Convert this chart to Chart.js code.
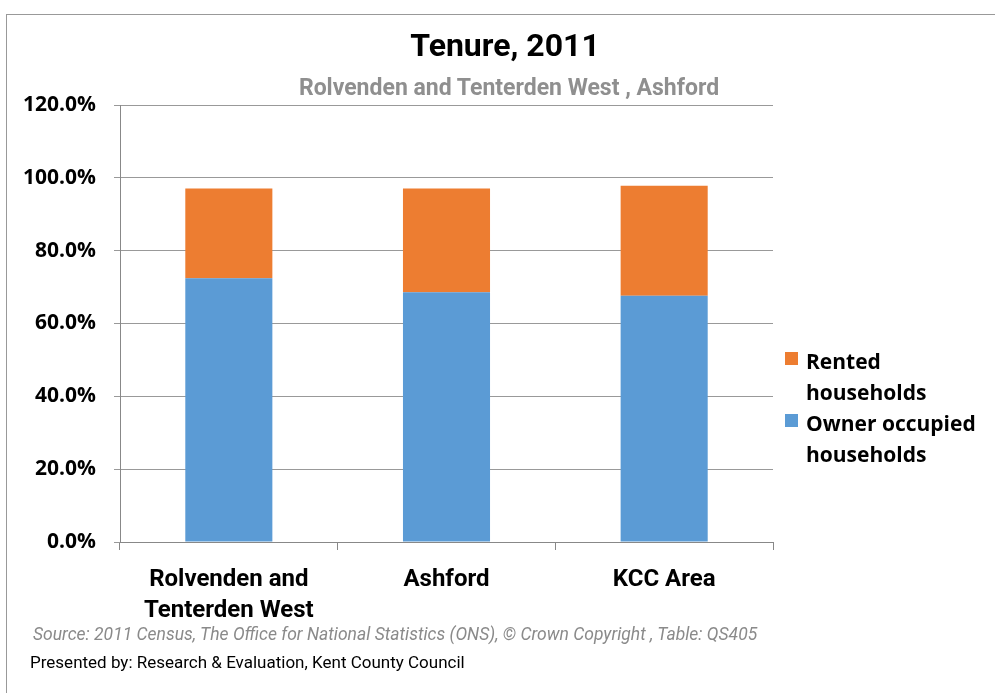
<!DOCTYPE html>
<html>
<head>
<meta charset="utf-8">
<script src="https://cdn.jsdelivr.net/npm/chart.js@4"></script>
<style>
  body { margin: 0; background: #fff; }
  #wrap { position: relative; width: 995px; height: 693px; overflow: hidden; background: #fff; }
  #frame { position: absolute; left: 6px; top: 14px; width: 1100px; height: 800px; border-left: 1px solid #999; border-top: 1px solid #999; }
  canvas { position: absolute; left: 0; top: 0; }
  .narrow { font-family: "Liberation Sans Narrow", "Arial Narrow", "Roboto", sans-serif; position: absolute; white-space: nowrap; }
  #title { left: 0; width: 1010px; top: 26px; text-align: center; font-size: 32px; font-weight: bold; color: #000; }
  #subtitle { left: 0; width: 1018px; top: 74px; text-align: center; font-size: 23px; font-weight: bold; color: #8f8f8f; }
  #source { left: 33px; top: 624px; font-size: 17.5px; font-style: italic; color: #8a8a8a; }
  #presented { left: 30px; top: 652px; font-size: 17px; color: #000; }
  #legend { position: absolute; left: 785px; top: 346px; font-family: "Open Sans", sans-serif; font-weight: 700; font-size: 21px; line-height: 31px; color: #000; }
  .item { position: relative; padding-left: 21px; }
  .swatch { position: absolute; left: 0; top: 6px; width: 13px; height: 13px; }
</style>
</head>
<body>
<div id="wrap">
  <div id="frame"></div>
  <canvas id="tenureChart" width="995" height="693"></canvas>
  <div id="title" class="narrow">Tenure, 2011</div>
  <div id="subtitle" class="narrow">Rolvenden and Tenterden West , Ashford</div>
  <div id="legend"></div>
  <div id="source" class="narrow">Source: 2011 Census, The Office for National Statistics (ONS), © Crown Copyright , Table: QS405</div>
  <div id="presented" class="narrow">Presented by: Research &amp; Evaluation, Kent County Council</div>
</div>
<script>
const areas = [["Rolvenden and", "Tenterden West"], "Ashford", "KCC Area"];
const ownerOccupied = [72.4, 68.6, 67.6];
const rented = [24.7, 28.5, 30.2];
const yTicks = [0, 20, 40, 60, 80, 100, 120];

const ownerColor = '#5B9BD5';
const rentedColor = '#ED7D31';

// Legend drawn as html so the labels can wrap like the original
const legendEl = document.getElementById('legend');
[['Rented', 'households', rentedColor], ['Owner occupied', 'households', ownerColor]].forEach(item => {
  const div = document.createElement('div');
  div.className = 'item';
  div.innerHTML = `<span class="swatch" style="background:${item[2]}"></span>${item[0]}<br>${item[1]}`;
  legendEl.appendChild(div);
});

const ctx = document.getElementById('tenureChart').getContext('2d');

const tenureChart = new Chart(ctx, {
  type: 'bar',
  data: {
    labels: areas,
    datasets: [{
      label: 'Owner occupied households',
      data: ownerOccupied,
      backgroundColor: ownerColor,
      barPercentage: 0.8,
      categoryPercentage: 0.5
    }, {
      label: 'Rented households',
      data: rented,
      backgroundColor: rentedColor,
      barPercentage: 0.8,
      categoryPercentage: 0.5
    }]
  },
  options: {
    responsive: false,
    animation: false,
    layout: {
      padding: { left: 0, right: 222, top: 105, bottom: 0 }
    },
    scales: {
      x: {
        stacked: true,
        grid: {
          offset: true,
          drawOnChartArea: false,
          color: '#888',
          tickLength: 8
        },
        border: { color: '#888' },
        ticks: {
          color: '#000',
          font: { family: '"Liberation Sans Narrow", "Arial Narrow", Roboto, sans-serif', size: 24, weight: 'bold', lineHeight: 1.3 },
          padding: 14,
          maxRotation: 0
        },
        afterFit: scale => { scale.height = 151; }
      },
      y: {
        stacked: true,
        min: 0,
        max: 120,
        afterBuildTicks: scale => { scale.ticks = yTicks.map(v => ({ value: v })); },
        grid: {
          color: '#999',
          tickLength: 6
        },
        border: { color: '#888' },
        ticks: {
          color: '#000',
          font: { family: '"Open Sans", sans-serif', size: 21, weight: 'bold' },
          padding: 18,
          callback: v => v.toFixed(1) + '%'
        },
        afterFit: scale => { scale.width = 120; }
      }
    },
    plugins: {
      legend: { display: false },
      tooltip: { enabled: false }
    }
  }
});
</script>
</body>
</html>
